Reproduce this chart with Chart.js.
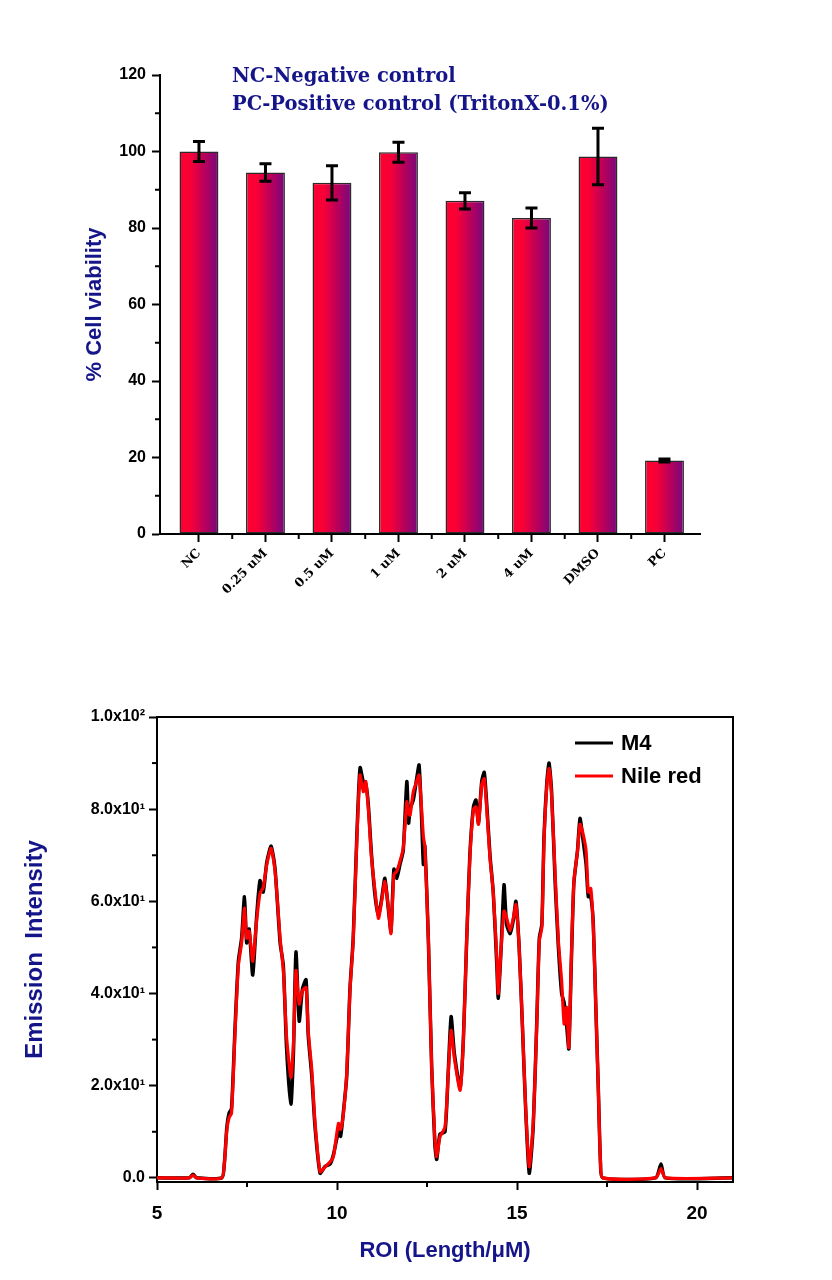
<!DOCTYPE html>
<html><head><meta charset="utf-8">
<script src="https://cdn.jsdelivr.net/npm/chart.js@4.4.1/dist/chart.umd.min.js"></script>
<style>
html,body{margin:0;padding:0;background:#fff;}
#wrap{position:relative;width:832px;height:1280px;}
#c1{position:absolute;left:0;top:0;}
#c2{position:absolute;left:0;top:640px;}
</style></head><body>
<div id="wrap"><canvas id="c1" width="832" height="640"></canvas><canvas id="c2" width="832" height="640"></canvas></div>
<script>
// ---------- data: bar chart ----------
const categories = ['NC','0.25 uM','0.5 uM','1 uM','2 uM','4 uM','DMSO','PC'];
const viability = [100, 94.5, 91.8, 99.8, 87.1, 82.6, 98.7, 19.2];
const viabilityErr = [2.6, 2.3, 4.5, 2.6, 2.1, 2.6, 7.4, 0.4];
const barYTicks = [0, 20, 40, 60, 80, 100, 120];
const barNotes = ['NC-Negative control', 'PC-Positive control (TritonX-0.1%)'];

// ---------- data: line chart ----------
const roiX = [5.0,5.9,6.0,6.1,6.8,6.87,6.94,7.0,7.07,7.17,7.26,7.35,7.43,7.49,7.56,7.66,7.77,7.86,7.95,8.05,8.17,8.28,8.42,8.51,8.60,8.72,8.79,8.86,8.95,9.04,9.14,9.20,9.30,9.39,9.53,9.67,9.81,9.90,10.04,10.10,10.18,10.27,10.36,10.45,10.55,10.64,10.73,10.80,10.87,10.96,11.06,11.15,11.24,11.33,11.43,11.50,11.58,11.66,11.75,11.84,11.94,11.99,12.03,12.12,12.21,12.28,12.35,12.40,12.44,12.54,12.63,12.72,12.77,12.86,13.0,13.09,13.17,13.26,13.42,13.51,13.60,13.69,13.79,13.86,13.93,14.02,14.09,14.16,14.25,14.34,14.44,14.48,14.56,14.64,14.71,14.81,14.90,14.97,15.06,15.15,15.24,15.34,15.45,15.55,15.62,15.69,15.75,15.83,15.89,15.96,16.06,16.15,16.24,16.31,16.38,16.44,16.51,16.58,16.68,16.75,16.84,16.92,16.98,17.05,17.12,17.19,17.26,17.32,17.38,18.85,19.0,19.12,21.0];
const m4 = [0,0,0.8,0,0,3,11,14,15,33,47,52,61,51,54,44,57,64.5,62,68.5,72,67,51,46,28,16,27,49,34,41,43,31,22,11,1,2.5,3,5,10,9,14.5,22,41,52,74,89,86,85.5,81,70,61,57,60.5,65,58,53.5,67,65,68,71,86,77,80,82,86.5,89.6,78,68,72,51,24,7,4,9.5,10,23,35,27,19.5,30,51,70,80.5,82,77,86,88,81,70,62,46,39,50,63.6,55,53,56,60,50,33,15,1,11,34,52,55,74,86,90,84,64,50,40,38,33,28,47,64,71,78,73,68,61,61,55,37,19,3,0,0,3,0,0];
const nileRed = [0,0,0.6,0,0,3,10.4,13,14,32,46,51,58.5,52,53.5,47,56,61.7,63,68,71.5,66.5,52,45,30.5,21.8,29,45,37.7,40.6,41.3,32,23.3,12,1.3,2.4,3.5,4.6,11.8,10.5,14,22.6,40.6,51.4,73,87.4,83.8,86,80,69.3,62,56.3,60,64.3,58.5,53,65.8,66.5,68.7,71.5,81.6,79,78.7,83.8,86,87.4,80,74,72,51.4,24,8.2,4.6,8.9,11,22.6,32,26,19,29.8,51.4,69.3,80,80.5,76.7,85.3,86.6,80,69.3,62,47.7,40,50,57.9,56.5,53.6,56.5,59.3,50,33.4,15.4,2.4,11.8,33.4,51.4,54.3,73,85.3,88.8,83,65.8,51.4,42.7,33.4,37,28.3,47.7,64.3,70.8,76.7,74.5,70.8,62,62.8,54.3,37,19,3.2,0,0,2,0,0];
const lineYTicks = [0, 20, 40, 60, 80, 100];
const lineYTickLabels = ['0.0', '2.0x10\u00B9', '4.0x10\u00B9', '6.0x10\u00B9', '8.0x10\u00B9', '1.0x10\u00B2'];
const lineXTicks = [5, 10, 15, 20];

// ---------- styling ----------
const navy = '#15158a';
const SANS = "'Liberation Sans', Arial, sans-serif";
const SERIF = "'DejaVu Serif', 'Liberation Serif', serif";
Chart.defaults.font.family = SANS;
Chart.defaults.color = '#000';
const BAR_FRAC = 0.585;

const minorTicks = {
  id: 'minorTicks',
  afterDraw(chart, args, opts) {
    const ctx = chart.ctx;
    ctx.save(); ctx.strokeStyle = '#000'; ctx.lineWidth = 2;
    (opts.axes || []).forEach(a => {
      const s = chart.scales[a.id];
      a.values.forEach(v => {
        const p = s.getPixelForValue(v);
        ctx.beginPath();
        if (s.isHorizontal()) { ctx.moveTo(p, s.top); ctx.lineTo(p, s.top + a.len); }
        else { ctx.moveTo(s.right, p); ctx.lineTo(s.right - a.len, p); }
        ctx.stroke();
      });
    });
    ctx.restore();
  }
};

const errorBars = {
  id: 'errorBars',
  afterDatasetsDraw(chart) {
    const {ctx, scales: {x, y}} = chart;
    ctx.save(); ctx.strokeStyle = '#000'; ctx.lineWidth = 3;
    viability.forEach((v, i) => {
      const px = x.getPixelForValue(i);
      const t = y.getPixelForValue(v + viabilityErr[i]);
      const b = y.getPixelForValue(v - viabilityErr[i]);
      ctx.beginPath();
      ctx.moveTo(px, t); ctx.lineTo(px, b);
      ctx.moveTo(px - 6, t); ctx.lineTo(px + 6, t);
      ctx.moveTo(px - 6, b); ctx.lineTo(px + 6, b);
      ctx.stroke();
    });
    ctx.restore();
  }
};

const notes = {
  id: 'notes',
  afterDraw(chart) {
    const ctx = chart.ctx, a = chart.chartArea;
    ctx.save();
    ctx.fillStyle = navy; ctx.font = "bold 19.5px " + SERIF; ctx.textBaseline = 'middle';
    barNotes.forEach((t, i) => ctx.fillText(t, a.left + 72, a.top + 2 + i * 28));
    ctx.restore();
  }
};

const boxFrame = {
  id: 'boxFrame',
  afterDraw(chart) {
    const ctx = chart.ctx, a = chart.chartArea;
    ctx.save(); ctx.strokeStyle = '#000'; ctx.lineWidth = 2;
    ctx.beginPath();
    ctx.moveTo(a.left, a.top); ctx.lineTo(a.right, a.top); ctx.lineTo(a.right, a.bottom);
    ctx.stroke();
    ctx.restore();
  }
};

const lineLegend = {
  id: 'lineLegend',
  afterDraw(chart) {
    const ctx = chart.ctx, a = chart.chartArea;
    ctx.save();
    chart.data.datasets.forEach((ds, i) => {
      const y = a.top + 26 + i * 33;
      ctx.strokeStyle = ds.borderColor; ctx.lineWidth = 3;
      ctx.beginPath(); ctx.moveTo(a.right - 158, y); ctx.lineTo(a.right - 120, y); ctx.stroke();
      ctx.fillStyle = '#000'; ctx.font = "bold 22px " + SANS; ctx.textBaseline = 'middle';
      ctx.fillText(ds.label, a.right - 112, y + 1);
    });
    ctx.restore();
  }
};

// ---------- bar chart ----------
new Chart(document.getElementById('c1'), {
  type: 'bar',
  data: {
    datasets: [{
      label: '% Cell viability',
      data: categories.map((c, i) => ({x: i, y: viability[i]})),
      backgroundColor: ctx => {
        const ch = ctx.chart, xs = ch.scales.x;
        if (!xs || ctx.dataIndex === undefined) return '#ff0030';
        const cx = xs.getPixelForValue(ctx.dataIndex);
        const half = (xs.getPixelForValue(1) - xs.getPixelForValue(0)) * BAR_FRAC / 2;
        if (!isFinite(cx) || !isFinite(half)) return '#ff0030';
        const g = ch.ctx.createLinearGradient(cx - half, 0, cx + half, 0);
        g.addColorStop(0, '#ff0030');
        g.addColorStop(0.28, '#f80036');
        g.addColorStop(0.65, '#b8005c');
        g.addColorStop(1, '#76087c');
        return g;
      },
      borderColor: '#2a2a2a',
      borderWidth: 1.5,
      borderSkipped: false,
      categoryPercentage: 1,
      barPercentage: BAR_FRAC
    }]
  },
  options: {
    responsive: false, animation: false, devicePixelRatio: 1,
    layout: {padding: {left: 80, top: 75, right: 132, bottom: 0}},
    plugins: {
      legend: {display: false}, tooltip: {enabled: false},
      minorTicks: {axes: [
        {id: 'y', len: 5, values: barYTicks.slice(0, -1).map((v, i) => (v + barYTicks[i + 1]) / 2)},
        {id: 'x', len: 5, values: categories.slice(0, -1).map((c, i) => i + 0.5)}
      ]}
    },
    scales: {
      x: {
        type: 'linear', min: -0.586, max: 7.534, offset: false,
        afterBuildTicks: s => { s.ticks = categories.map((c, i) => ({value: i})); },
        ticks: {callback: v => categories[v], autoSkip: false, maxRotation: 45, minRotation: 45,
          font: {family: SERIF, weight: 'bold', size: 12.5}, padding: 4},
        grid: {drawOnChartArea: false, offset: false, tickLength: 8, tickWidth: 2, tickColor: '#000'},
        border: {color: '#000', width: 2},
        afterFit: s => { s.height = 106; }
      },
      y: {
        min: 0, max: 120,
        afterBuildTicks: s => { s.ticks = barYTicks.map(v => ({value: v})); },
        ticks: {font: {weight: 'bold', size: 16}, padding: 6},
        grid: {drawOnChartArea: false, tickLength: 8, tickWidth: 2, tickColor: '#000'},
        border: {color: '#000', width: 2},
        title: {display: true, text: '% Cell viability', color: navy, font: {weight: 'bold', size: 22}, padding: {top: 2, bottom: 0}},
        afterFit: s => { s.width = 80; }
      }
    }
  },
  plugins: [errorBars, minorTicks, notes]
});

// ---------- line chart ----------
new Chart(document.getElementById('c2'), {
  type: 'line',
  data: {
    datasets: [
      {label: 'M4', data: roiX.map((x, i) => ({x, y: m4[i]})), borderColor: '#000000', borderWidth: 3.5, pointRadius: 0, tension: 0.2, order: 2},
      {label: 'Nile red', data: roiX.map((x, i) => ({x, y: nileRed[i]})), borderColor: '#ff0000', borderWidth: 3.2, pointRadius: 0, tension: 0.2, order: 1}
    ]
  },
  options: {
    responsive: false, animation: false, devicePixelRatio: 1,
    layout: {padding: {left: 18, top: 77, right: 99, bottom: 0}},
    plugins: {
      legend: {display: false}, tooltip: {enabled: false},
      minorTicks: {axes: [
        {id: 'y', len: 5, values: lineYTicks.slice(0, -1).map((v, i) => (v + lineYTicks[i + 1]) / 2)},
        {id: 'x', len: 5, values: lineXTicks.map(v => v + 2.5).filter(v => v < 21)}
      ]}
    },
    scales: {
      x: {
        type: 'linear', min: 5, max: 21,
        afterBuildTicks: s => { s.ticks = lineXTicks.map(v => ({value: v})); },
        ticks: {font: {weight: 'bold', size: 19}, padding: 12, maxRotation: 0},
        grid: {drawOnChartArea: false, tickLength: 8, tickWidth: 2, tickColor: '#000'},
        border: {color: '#000', width: 2},
        title: {display: true, text: 'ROI (Length/\u03BCM)', color: navy, font: {weight: 'bold', size: 22}, padding: {top: 0, bottom: 16}},
        afterFit: s => { s.height = 98; }
      },
      y: {
        min: -0.9, max: 100,
        afterBuildTicks: s => { s.ticks = lineYTicks.map(v => ({value: v})); },
        ticks: {callback: v => lineYTickLabels[lineYTicks.indexOf(v)], font: {weight: 'bold', size: 16}, padding: 4},
        grid: {drawOnChartArea: false, tickLength: 8, tickWidth: 2, tickColor: '#000'},
        border: {color: '#000', width: 2},
        title: {display: true, text: 'Emission  Intensity', color: navy, font: {weight: 'bold', size: 24}, padding: {top: 3, bottom: 0}},
        afterFit: s => { s.width = 139; }
      }
    }
  },
  plugins: [minorTicks, boxFrame, lineLegend]
});
</script>
</body></html>
